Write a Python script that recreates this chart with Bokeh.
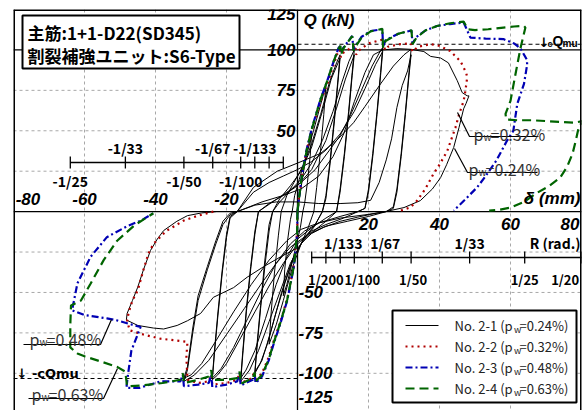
import numpy as np
from bokeh.plotting import figure
from bokeh.models import Range1d, Span
from bokeh.core.properties import value
from bokeh.embed import file_html
from bokeh.resources import INLINE

# ---------------- data ----------------
x_tick_values = [-80, -60, -40, -20, 20, 40, 60, 80]
y_tick_values = [125, 100, 75, 50, -50, -75, -100, -125]
x_grid_values = [-60, -40, -20, 20, 40, 60]
y_grid_values = [-100, -75, -50, -25, 25, 50, 75]
q_ref_value = 100
cqmu_pos = 103.5
cqmu_neg = -103.2
member_length_mm = 1600
r_left_ticks = [25, 33, 50, 67, 100, 133, 200, 400]
r_left_upper = [33, 67, 133]
r_left_lower = [25, 50, 100]
r_right_ticks = [400, 200, 133, 100, 67, 50, 33, 25, 20]
r_right_upper = [133, 67, 33]
r_right_lower = [200, 100, 50, 25, 20]

series_names = ["No. 2-1", "No. 2-2", "No. 2-3", "No. 2-4"]
series_pw = ["0.24", "0.32", "0.48", "0.63"]

# No. 2-1 : full hysteresis (delta mm, Q kN)
no21 = [
    (0, 0), (0.8, 12), (1.8, 26), (3, 40), (4, 50),
    (3.6, 35), (2.8, 18), (2, 5), (1.5, 0),
    (0.8, -10), (-0.5, -22), (-2, -36), (-3, -45), (-4, -52),
    (-3.6, -36), (-2.8, -18), (-2, -5), (-1.5, 0),
    (-0.8, 10), (0.5, 20), (2.5, 35), (4.5, 50), (6.5, 66), (8, 78),
    (7.4, 60), (6.5, 38), (5.4, 15), (4.6, 0),
    (3, -10), (1, -20), (-1.5, -35), (-4, -55), (-6, -70), (-8, -82),
    (-7.4, -62), (-6.5, -38), (-5.4, -15), (-4.6, 0),
    (-3, 10), (-1, 18), (1.5, 28), (4, 42), (6.5, 60), (9, 80), (11, 92), (12, 97),
    (11.4, 82), (10.4, 58), (9.2, 32), (8, 10), (7, 0),
    (5, -8), (2, -16), (-1, -28), (-3.5, -44), (-6, -62), (-8.5, -82), (-10.5, -94), (-12, -100),
    (-11.4, -84), (-10.4, -60), (-9.2, -34), (-8, -12), (-7, 0),
    (-5, 8), (-2, 16), (1, 25), (4, 40), (7, 62), (9.5, 82), (12, 95),
    (11.4, 80), (10.4, 56), (9.2, 30), (8, 8), (7, 0),
    (4.5, -10), (1.5, -18), (-1.5, -30), (-4.5, -50), (-7.5, -74), (-10, -92), (-12, -99),
    (-11.4, -82), (-10.4, -58), (-9.2, -30), (-8, -8), (-7, 0),
    (-5, 6), (-2, 13), (1, 20), (4, 30), (7, 44), (10, 62), (12.5, 80), (14.5, 93), (16, 100),
    (15.4, 86), (14.4, 62), (13.2, 36), (12, 14), (11, 0),
    (8, -6), (4, -13), (1, -20), (-2, -32), (-5, -50), (-8, -68), (-11, -86), (-13.5, -98), (-16, -105),
    (-15.4, -88), (-14.4, -62), (-13.2, -36), (-12, -14), (-11, 0),
    (-8, 5), (-4, 10), (0, 16), (4, 26), (8, 44), (11, 64), (13.5, 82), (16, 97),
    (15.4, 84), (14.4, 60), (13.2, 34), (12, 12), (11, 0),
    (8, -4), (4, -10), (0, -17), (-3, -28), (-6, -45), (-9, -66), (-12, -86), (-14.5, -98), (-16, -103),
    (-15.4, -86), (-14.4, -60), (-13.2, -34), (-12, -12), (-11, 0),
    (-7, 6), (-3, 12), (1, 18), (5, 26), (9, 38), (12, 47), (15, 60), (18, 75), (21, 90), (23, 98), (24, 101.6),
    (23.4, 86), (22.4, 62), (21.2, 36), (20, 14), (19, 2), (17, 0),
    (13, -4), (8, -8), (4, -12), (0, -20), (-4, -32), (-8, -46), (-12, -62), (-16, -78), (-20, -94), (-22.5, -101), (-24, -104),
    (-23.4, -88), (-22.4, -64), (-21.2, -38), (-20, -16), (-19, -4), (-17, 0),
    (-12.4, 12), (-8, 18), (-4, 22), (0, 26), (4, 31), (8, 38), (12, 48), (16, 62), (19, 76), (22, 91), (24, 99),
    (23.4, 84), (22.4, 60), (21.2, 34), (20, 12), (19, 2), (17, 0),
    (12, -3), (6, -7), (2, -12), (-2, -20), (-6, -32), (-10, -48), (-14, -66), (-18, -84), (-21.5, -97), (-24, -103),
    (-23.4, -86), (-22.4, -62), (-21.2, -36), (-20, -14), (-19, -3), (-17, 0),
    (-12.4, 15), (-5.7, 25), (0, 30), (6.5, 36), (11, 44), (15.8, 55), (19, 65), (23.4, 79), (27, 90), (30, 97), (32, 100.4),
    (31.4, 86), (30.4, 62), (29.2, 36), (28, 14), (27, 3), (25, 0),
    (20, -3), (14, -6), (8, -9), (3, -14), (-2, -22), (-6, -32), (-10, -44), (-15, -60), (-20, -76), (-25, -92), (-29, -101), (-32, -105),
    (-31, -98), (-29.5, -75), (-28, -55), (-25.4, -36), (-23, -20), (-21, -8), (-19, -2), (-17, 0),
    (-12, 4), (-6, 6), (0, 6), (6, 5), (12, 5), (17, 5.5), (20.6, 7), (23, 18), (25, 32), (26.5, 45), (28, 64.4), (29.5, 78), (31, 87), (32, 97),
    (31.4, 84), (30.4, 60), (29.2, 34), (28, 12), (27, 2), (25, 0),
    (19, -2), (12, -4), (6, -7), (1, -11), (-3, -18), (-8, -30), (-13, -45), (-18, -62), (-23, -80), (-27, -94), (-30, -101), (-32, -103),
    (-31, -96), (-29.5, -72), (-28, -52), (-25.4, -34), (-23, -18), (-21, -6), (-19, -1), (-17, 0),
    (-10, 6), (-4, 10), (1, 14), (6, 22), (10, 34), (13, 48), (16, 68), (19, 86), (21.4, 97), (24, 100), (28, 100.8),
    (31.8, 100.4), (35.6, 99), (37.5, 96), (40.3, 95), (42.5, 92), (45, 81), (46.4, 73.6), (47.8, 71.6), (48.3, 71.6),
    (47.5, 67), (46.8, 63.6), (45.5, 52), (44, 39.7), (42, 29), (40.3, 21), (38, 14), (34.6, 6.8), (30, 2.5), (26, 0.6),
    (21, -1.5), (16.8, -3.5), (12, -6), (7.4, -9.7), (4, -13.5), (1.7, -18), (0.3, -22), (-4.8, -28), (-9.5, -34),
    (-14.2, -40.6), (-18, -47), (-23.7, -53), (-27.3, -63), (-31, -67.5), (-33.9, -70.4), (-37.7, -72.6), (-40.6, -72),
    (-45, -70.4), (-48.2, -67),
    (-48, -63), (-46.5, -55), (-45, -46.7), (-43.4, -36), (-41.4, -24), (-39.5, -17), (-37.7, -11.7), (-34, -6),
    (-31, -2.5), (-27, -0.8), (-23, 0),
]

# No. 2-2 : skeleton, positive and negative branches
no22_pos = [(0, 0), (0.4, 8), (1.3, 23), (2.7, 39), (4.1, 51), (6.5, 68), (8.4, 79), (10.2, 91), (11.2, 97.5),
            (12, 100), (12.2, 95.5), (12.7, 98), (14.5, 100.5), (16.3, 103), (16.5, 97), (17.2, 99.5), (20, 104),
            (24.3, 106.6), (24.6, 100), (25.5, 102), (29, 103.6), (32, 104), (32.3, 99), (34, 102), (37.5, 103.6),
            (40, 102.5), (43, 99.4), (45.9, 93), (47.5, 86), (47.8, 83), (47.3, 74.7), (46.8, 68.5), (45.5, 60),
            (44.5, 52), (42.2, 37.6), (40, 29), (38.3, 23.4), (36, 14), (33.7, 6.8), (31.8, 2.6), (29, 0.6)]
no22_neg = [(0, 0), (-0.1, -13), (-1, -33), (-2.9, -54), (-4.8, -68), (-6.7, -80), (-8.1, -90), (-10, -100),
            (-11.8, -104), (-12.2, -99), (-12.8, -103), (-16, -106), (-16.3, -100), (-17, -104), (-20, -106),
            (-24, -107), (-24.3, -101), (-25, -105), (-28, -106), (-31, -104), (-31.3, -90), (-31, -80.6),
            (-33, -80), (-38.6, -78.6), (-43.4, -76), (-47.3, -73.4), (-48, -67), (-47.5, -62), (-46.5, -55),
            (-45, -48.8), (-43.4, -36), (-42, -26), (-40.6, -20), (-37, -12), (-32, -5.5), (-28, -2.5), (-23.7, 0)]

# No. 2-3
no23_pos = [(0, 0), (0.4, 8), (1.3, 23.4), (2.7, 39.7), (4.1, 52), (6.5, 69.7), (8.4, 81), (10.2, 93), (11.6, 101.4),
            (12.1, 102.5), (12.3, 98), (12.8, 101), (15.4, 108.6), (15.8, 100), (16.5, 103), (18, 108), (20.6, 111.7),
            (23.9, 112.8), (24.1, 102), (24.8, 106), (28.4, 110), (32.1, 112), (32.4, 104), (33.5, 108), (36, 112),
            (39.3, 114.8), (43, 116), (46.8, 117), (48.7, 107.6), (53, 107), (58, 106.7), (61, 104), (62.8, 101),
            (64.6, 94), (64.7, 91), (63.8, 79), (61.9, 66.6), (60.8, 50), (59, 43.8), (56, 31.5), (53, 22),
            (50.6, 15), (47, 7), (44, 0.6)]
no23_neg = [(0, 0), (-0.1, -13.6), (-1, -34), (-2.9, -55), (-4.8, -69), (-6.7, -81.7), (-8.1, -92), (-10, -102),
            (-11.8, -106), (-12.1, -100), (-12.6, -104), (-16, -107.5), (-16.3, -100), (-17, -105), (-20, -107),
            (-24, -108.5), (-24.3, -101), (-25, -106), (-28, -107), (-32, -108), (-32.3, -101), (-33, -105),
            (-38.6, -105), (-44.5, -109), (-48.2, -109), (-47.7, -100), (-46.8, -86), (-44.2, -71.4), (-50.8, -67.3),
            (-53.7, -66), (-60, -64), (-63.5, -61), (-62, -44.4), (-58.3, -28), (-53.7, -15.8), (-48, -9),
            (-44, -5.4), (-40.6, -1)]

# No. 2-4
no24_pos = [(0, 0), (0.4, 8), (1.3, 23), (2.7, 39), (4.1, 51.5), (6.5, 69.5), (8.4, 81), (10.2, 93), (11.6, 101),
            (12.1, 102.5), (12.3, 97), (12.8, 100.5), (15.4, 108.6), (15.8, 99.5), (16.5, 102.5), (18, 107.5),
            (20.6, 111.5), (23.9, 113), (24.1, 101.5), (24.8, 105.5), (28.4, 110), (32.1, 112.2), (32.4, 103.5),
            (33.5, 107.5), (36, 112), (39.3, 114.8), (43, 116.5), (46.8, 117.5), (48, 112.8), (50, 112.3),
            (53.7, 112.8), (58, 113.8), (61, 114.5), (63.8, 114.8), (64.2, 113.8), (62.8, 101), (61.4, 85),
            (60, 68.5), (58.6, 60.5), (58.8, 57), (62, 56.5), (66, 56.5), (70, 56), (74, 55.5), (78, 55), (80.3, 56),
            (79.2, 52), (78.5, 45), (77.5, 36), (76, 28), (74, 21), (71, 16), (67, 11), (63.8, 6), (60, 2.5),
            (57, 1.2), (54, 0.6)]
no24_neg = [(0, 0), (-0.1, -13), (-1, -33.5), (-2.9, -54.5), (-4.8, -68.5), (-6.7, -81), (-8.1, -91.5), (-10, -101),
            (-11.8, -105), (-12.1, -99.5), (-12.6, -103), (-16, -106.5), (-16.3, -99), (-17, -103), (-20, -104),
            (-24, -104), (-24.3, -98), (-25, -102), (-28, -104), (-32, -106), (-32.3, -100), (-33, -104),
            (-38, -106), (-44, -107.5), (-48, -108), (-48.5, -99), (-50.8, -96), (-56.4, -92), (-60, -89.5),
            (-62, -87.7), (-64, -84), (-64, -70), (-63.8, -58), (-61, -55), (-58.3, -44.6), (-54.6, -30),
            (-50.8, -18), (-46, -8.6), (-40.6, -1)]

# ---------------- layout helpers ----------------
XMIN, XMAX, YMIN, YMAX = -80, 80, -123, 125
FL, FR, FT, FB = 13, 581, 9, 410


def X(px):
    return XMIN + (px - FL) * (XMAX - XMIN) / (FR - FL)


def Y(py):
    return YMAX - (py - FT) * (YMAX - YMIN) / (FB - FT)


def PXH(n):  # n pixels as data height
    return n * (YMAX - YMIN) / (FB - FT)


SANS = "Liberation Sans"
JP = "Noto Sans CJK JP"

p = figure(width=585, height=410, x_range=Range1d(XMIN, XMAX), y_range=Range1d(YMIN, YMAX),
           output_backend="svg", toolbar_location=None, x_axis_location=None, y_axis_location=None,
           min_border_left=FL, min_border_right=585 - FR, min_border_top=FT, min_border_bottom=0,
           outline_line_color=None, background_fill_color="white", border_fill_color="white")
p.grid.visible = False
p.title.visible = False

# grid
for v in x_grid_values:
    p.add_layout(Span(location=v, dimension="height", line_color="#a8a8a8", line_dash="3 3",
                      line_width=1, level="underlay"))
for v in y_grid_values:
    p.add_layout(Span(location=v, dimension="width", line_color="#a8a8a8", line_dash="3 3",
                      line_width=1, level="underlay"))
p.add_layout(Span(location=q_ref_value, dimension="width", line_color="black", line_width=1.3, level="underlay"))
p.add_layout(Span(location=0, dimension="width", line_color="black", line_width=1.3, level="underlay"))
p.add_layout(Span(location=0, dimension="height", line_color="black", line_width=1.3, level="underlay"))

# cQmu lines
p.line([0, XMAX], [cqmu_pos, cqmu_pos], line_color="black", line_dash="4 3", line_width=1.2)
p.line([XMIN, 0], [cqmu_neg, cqmu_neg], line_color="black", line_dash="4 3", line_width=1.2)

# ---------------- curves ----------------
styles = [
    dict(line_color="black", line_width=1),
    dict(line_color="#b00000", line_width=2.2, line_dash="2 4"),
    dict(line_color="#0000b4", line_width=2.2, line_dash="7 3 2 3"),
    dict(line_color="#006400", line_width=2.2, line_dash="9 5"),
]


def draw(pts, st):
    a = np.array(pts, dtype=float)
    p.line(a[:, 0], a[:, 1], **st)


draw(no21, styles[0])
draw(no22_pos, styles[1])
draw(no22_neg, styles[1])
draw(no23_pos, styles[2])
draw(no23_neg, styles[2])
draw(no24_pos, styles[3])
draw(no24_neg, styles[3])

# frame borders (left, right, top)
p.add_layout(Span(location=XMIN, dimension="height", line_color="black", line_width=3))
p.add_layout(Span(location=XMAX, dimension="height", line_color="black", line_width=3))
p.add_layout(Span(location=YMAX, dimension="width", line_color="black", line_width=3))


def txt(x, y, s, size, align="left", baseline="middle", font=SANS, style="normal", color="black", xo=0, yo=0):
    p.text(x=x, y=y, text=s, text_font=value(font), text_font_size=f"{size}px", text_font_style=style,
           text_align=align, text_baseline=baseline, text_color=color, x_offset=xo, y_offset=yo)


# ---------------- tick labels ----------------
xl_neg = [v for v in x_tick_values if v < 0]
xl_pos = [v for v in x_tick_values if v > 0]
for v in xl_neg:
    al = "left" if v == XMIN else "center"
    xv = v + 0.6 if v == XMIN else v
    txt([xv], [0], [str(v)], 17, align=al, style="bold italic", yo=-13)
for v in xl_pos:
    al = "right" if v == XMAX else "center"
    xv = v - 0.6 if v == XMAX else v
    txt([xv], [0], [str(v)], 17, align=al, style="bold italic", yo=12)
for v in y_tick_values:
    yv = min(max(v, YMIN + 0.1), YMAX - 0.1)
    yo = 4 if v > YMAX - 1 else (-13 if v < YMIN else 0)
    if v > 0:
        txt([0], [yv], [str(v)], 17, align="right", style="bold italic", xo=-2, yo=yo)
    else:
        txt([0], [yv], [str(v)], 17, align="left", style="bold italic", xo=1, yo=yo)

txt([X(303)], [Y(20)], ["Q (kN)"], 17, style="bold italic")
txt([X(580)], [Y(198)], ["δ (mm)"], 17, align="right", style="bold italic")

# ---------------- R axes ----------------
rl_y = Y(162)
rr_y = Y(257)
tick_h = PXH(6)
L = member_length_mm
rl_x = [-L / d for d in r_left_ticks]
p.line([min(rl_x), max(rl_x)], [rl_y, rl_y], line_color="black", line_width=1.3)
p.segment(x0=rl_x, y0=[rl_y - tick_h] * len(rl_x), x1=rl_x, y1=[rl_y + tick_h] * len(rl_x),
          line_color="black", line_width=1.3)
txt([-L / d for d in r_left_upper], [rl_y] * 3, [f"-1/{d}" for d in r_left_upper], 14, align="center",
    font=JP, style="bold", yo=-15)
txt([-L / d for d in r_left_lower], [rl_y] * 3, [f"-1/{d}" for d in r_left_lower], 14, align="center",
    font=JP, style="bold", yo=18)

rr_x = [L / d for d in r_right_ticks]
p.line([min(rr_x), XMAX], [rr_y, rr_y], line_color="black", line_width=1.3)
p.segment(x0=rr_x, y0=[rr_y - tick_h] * len(rr_x), x1=rr_x, y1=[rr_y + tick_h] * len(rr_x),
          line_color="black", line_width=1.3)
txt([L / d for d in r_right_upper], [rr_y] * 3, [f"1/{d}" for d in r_right_upper], 14, align="center",
    font=JP, style="bold", yo=-15, xo=[3, 3, 0])
low_x = [min(L / d, XMAX - 4.6) for d in r_right_lower]
txt(low_x, [rr_y] * len(low_x), [f"1/{d}" for d in r_right_lower], 13, align="center",
    font=JP, style="bold", yo=22, xo=[0, 8, 2, 0, 0])
txt([X(580)], [rr_y], ["R (rad.)"], 14, align="right", font=JP, style="bold", yo=-15)

# ---------------- cQmu labels ----------------
txt([X(538)], [Y(42)], ["↓"], 13, baseline="alphabetic", font="DejaVu Sans", style="bold")
txt([X(547)], [Y(43)], ["c"], 9, baseline="alphabetic", style="bold")
txt([X(552)], [Y(40)], ["Q"], 14, baseline="alphabetic", style="bold")
txt([X(562)], [Y(43)], ["mu"], 10, baseline="alphabetic", style="bold")
txt([X(16)], [Y(373)], ["↓ -cQmu"], 13, font="DejaVu Sans", style="bold")

# ---------------- p_w annotations ----------------
ann = [
    # p_end_px, baseline_py, pw, leader (x0,y0)->(x1,y1), underline end px
    (483, 133, "0.32", (457, 112), (469, 136), 538),
    (478, 168, "0.24", (454, 148), (467, 172), 537),
    (39, 338, "0.48", (111, 319), (100, 344), 23),
    (41, 393, "0.63", (117, 368), (103, 398), 28),
]
for pend, base, pw, a0, a1, uend in ann:
    p.line([X(a0[0]), X(a1[0]), X(uend)], [Y(a0[1]), Y(a1[1]), Y(a1[1])], line_color="black", line_width=1.2)
    txt([X(pend)], [Y(base)], ["p"], 16, align="right", baseline="alphabetic", font=JP, color="#333333")
    txt([X(pend)], [Y(base + 3)], ["w"], 10, baseline="alphabetic", font=JP, color="#333333")
    txt([X(pend + 7)], [Y(base)], ["=" + pw + "%"], 16, baseline="alphabetic", font=JP, color="#333333")

# ---------------- title box ----------------
p.quad(left=[X(22)], right=[X(239)], top=[Y(15)], bottom=[Y(68)], fill_color="white",
       line_color="black", line_width=2)
txt([X(27)], [Y(32)], ["主筋:1+1-D22(SD345)"], 17, font=JP, style="bold")
txt([X(27)], [Y(55)], ["割裂補強ユニット:S6-Type"], 17, font=JP, style="bold")

# ---------------- legend ----------------
p.quad(left=[X(392)], right=[X(576)], top=[Y(310)], bottom=[Y(402)], fill_color="white",
       line_color="black", line_width=2)
rows = [325, 346, 367, 388]
for i, (nm, pw) in enumerate(zip(series_names, series_pw)):
    yy = Y(rows[i])
    p.line([X(405), X(438)], [yy, yy], **styles[i])
    txt([X(515)], [yy], [nm + "  (p"], 13, align="right", font=JP, color="#222222")
    txt([X(513.5)], [yy], ["w"], 9, font=JP, color="#222222", yo=4)
    txt([X(519)], [yy], ["=" + pw + "%)"], 13, font=JP, color="#222222")

open("out.html", "w").write(file_html(p, INLINE))
